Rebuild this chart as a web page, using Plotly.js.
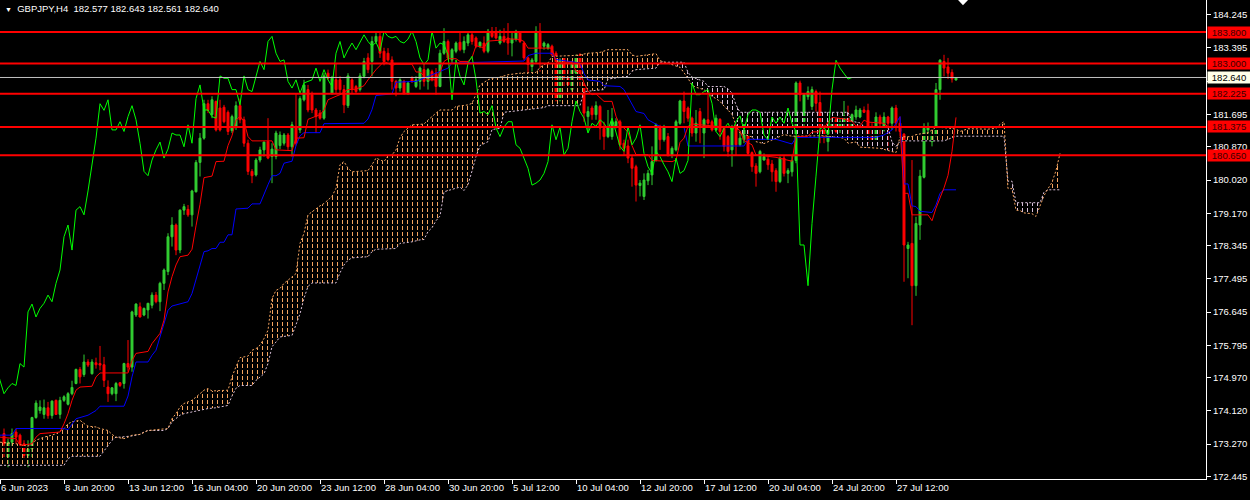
<!DOCTYPE html>
<html><head><meta charset="utf-8">
<script src="https://cdn.plot.ly/plotly-3.0.1.min.js"></script>
<style>html,body{margin:0;padding:0;background:#000;}#chart{width:1250px;height:500px;}</style>
</head><body><div id="chart"></div>
<script>
// ---- GBPJPY H4 candles (bar index 1..239) ----
const firstBar = 1;
const opens = [173.54,172.94,173.32,173.58,173.50,173.28,172.98,173.15,173.95,174.13,
174.03,174.20,174.00,174.39,174.03,174.39,174.29,174.56,174.82,175.18,
175.05,175.37,175.07,175.35,175.33,175.30,174.73,174.56,174.56,174.84,
174.82,175.33,175.24,176.57,176.78,176.57,176.70,176.82,177.08,176.91,
177.38,177.68,178.57,178.87,178.23,179.25,179.27,179.13,179.72,180.47,
181.09,181.97,181.69,182.03,181.86,181.88,181.75,181.28,181.39,181.92,
181.56,180.96,180.24,180.15,180.53,180.79,181.00,180.62,180.62,180.90,
180.96,181.17,180.87,181.39,181.30,182.07,182.33,182.20,181.81,181.73,
181.60,182.75,182.24,182.58,182.58,182.33,181.92,182.58,182.41,182.33,
182.67,183.14,183.05,183.56,183.69,183.31,183.26,183.09,182.54,182.37,
182.54,182.24,182.62,182.41,182.54,182.84,182.54,182.79,182.75,182.41,
183.26,183.56,183.09,183.31,183.54,183.35,183.52,183.73,183.65,183.44,
183.52,183.31,183.82,183.82,183.52,183.69,183.65,183.52,183.61,183.78,
183.52,183.14,182.92,183.05,183.82,183.44,183.39,183.44,183.26,182.07,
183.14,182.62,182.33,182.75,183.22,182.45,181.64,181.86,181.69,181.90,
181.34,181.13,181.13,181.37,181.51,180.96,180.89,180.58,180.36,179.88,
179.60,180.00,180.15,180.53,181.34,181.05,181.13,180.66,180.79,181.47,
182.04,181.86,181.60,181.22,181.77,181.22,181.56,181.51,181.30,181.57,
181.34,181.13,180.79,181.34,180.92,181.05,181.17,180.72,180.38,180.23,
180.53,180.55,180.43,180.26,179.98,180.58,180.19,180.23,180.52,182.50,
181.51,182.15,181.90,182.28,182.00,181.34,181.00,181.30,181.56,181.30,
181.47,181.64,181.30,181.63,181.63,181.81,181.80,181.17,181.05,181.63,
181.30,181.63,181.47,181.86,181.47,181.19,178.27,178.40,177.32,178.87,
180.09,181.30,181.00,181.17,182.33,183.05,182.91,182.77,182.577];
const highs = [173.67,173.41,173.67,173.67,173.54,173.37,173.37,173.97,174.39,174.39,
174.41,174.35,174.39,174.41,174.48,174.52,174.60,174.89,175.20,175.24,
175.56,175.44,175.44,175.48,175.78,175.50,174.90,174.73,174.86,174.86,
175.35,175.93,176.68,176.87,176.89,176.76,176.88,177.15,177.16,177.42,
177.76,178.66,179.07,178.91,179.27,179.41,179.38,179.77,180.53,181.22,
182.07,182.07,182.16,182.05,182.07,181.94,181.80,181.69,182.03,182.10,
181.64,181.05,180.30,180.58,180.87,181.00,181.60,180.96,181.28,181.26,
181.22,181.22,181.51,182.24,182.16,182.58,182.45,182.28,181.86,181.81,
182.75,182.84,182.68,183.01,182.67,182.45,182.75,182.62,182.45,182.75,
183.14,183.26,183.69,183.80,183.80,183.40,183.39,183.18,182.58,182.62,
182.58,182.54,182.67,182.67,182.92,182.97,182.88,182.84,182.88,183.35,
183.90,183.61,183.39,183.56,183.78,183.69,183.78,183.78,183.69,183.56,
183.69,183.88,183.93,183.93,183.86,183.90,184.03,183.78,183.86,183.82,
183.56,183.18,183.14,183.95,184.03,183.56,183.52,183.48,183.31,183.14,
183.18,182.84,183.05,183.22,183.26,182.50,181.90,181.92,182.03,181.94,
181.51,181.81,181.86,181.60,181.56,181.05,181.05,180.66,180.41,180.02,
180.19,180.28,180.88,181.47,181.43,181.43,181.22,180.88,181.56,182.07,
182.28,181.90,181.64,181.81,181.86,181.60,182.20,181.56,181.69,181.60,
181.39,181.17,181.43,181.43,181.26,181.47,181.47,180.75,180.45,180.79,
180.70,180.62,180.53,180.32,180.62,180.66,180.32,180.66,182.54,182.56,
182.24,182.41,182.41,182.33,182.28,181.43,181.39,181.60,181.64,181.64,
182.04,181.92,181.72,181.92,181.86,181.90,181.97,181.47,181.75,181.69,
181.75,181.66,181.90,181.94,181.64,181.22,178.44,180.53,179.08,180.28,
181.47,181.49,181.26,182.50,183.11,183.22,183.14,182.85,182.643];
const lows = [172.94,172.68,173.20,173.28,173.15,172.90,172.68,172.94,173.92,174.05,
173.92,173.92,173.92,174.02,173.92,174.35,174.26,174.52,174.80,174.82,
174.99,175.24,175.05,175.20,175.16,174.73,174.35,174.52,174.37,174.73,
174.69,175.12,175.12,176.52,176.51,176.54,176.48,176.74,176.87,176.67,
177.21,177.59,178.32,178.10,178.15,179.13,179.08,178.83,179.70,180.11,
181.05,181.73,181.60,181.26,181.26,181.47,181.17,181.22,181.30,181.47,
180.87,180.15,179.94,180.11,180.47,180.62,180.55,179.94,180.55,180.81,
180.90,180.79,180.62,180.90,181.22,182.03,181.75,181.73,181.22,181.56,
181.56,182.58,182.20,182.24,182.20,181.73,181.86,182.24,182.24,182.28,
182.62,182.75,182.67,183.50,183.14,182.95,183.05,182.33,182.16,182.28,
182.20,182.20,182.50,182.37,182.33,182.41,182.33,182.54,182.20,182.39,
183.22,183.09,183.01,183.26,183.31,183.26,183.44,183.48,183.39,183.39,
183.26,183.26,183.65,183.61,183.48,183.52,183.22,183.18,183.56,183.52,
183.09,182.75,182.79,183.01,182.79,183.35,183.35,183.18,182.03,182.03,
182.41,182.37,182.28,182.71,182.37,181.51,181.26,181.56,181.56,181.05,
180.79,181.09,181.05,181.34,180.79,180.66,180.45,179.85,179.47,179.60,
179.51,179.89,179.89,180.49,180.79,181.00,180.62,180.58,180.75,181.43,
181.47,181.51,181.13,181.00,180.96,180.58,181.43,181.26,181.26,181.05,
180.75,180.62,180.36,180.66,180.88,180.96,180.66,180.23,179.85,180.19,
180.52,180.28,179.98,179.72,179.94,180.11,179.94,180.11,180.45,182.03,
181.39,182.07,181.81,181.77,180.96,180.96,180.75,181.26,181.22,181.22,
181.39,181.13,181.26,181.56,181.60,181.73,180.96,181.00,181.00,181.17,
181.26,180.79,181.30,181.26,181.13,177.42,177.51,176.31,177.06,178.49,
180.06,181.05,180.88,181.13,182.07,182.67,182.60,182.51,182.561];
const closes = [173.28,173.32,173.54,173.45,173.28,172.98,173.15,173.95,174.32,174.22,
174.20,174.00,174.37,174.03,174.39,174.48,174.56,174.72,175.18,174.99,
175.37,175.29,175.37,175.30,175.29,174.90,174.56,174.71,174.82,174.77,
175.33,175.24,176.65,176.85,176.52,176.74,176.87,177.08,176.91,177.38,
177.72,178.57,178.87,178.23,179.25,179.34,179.13,179.74,180.47,181.09,
181.97,181.80,182.07,181.30,181.30,181.51,181.26,181.64,181.92,181.56,
180.96,180.24,180.13,180.53,180.79,180.99,180.58,180.81,181.22,181.17,
181.17,180.87,181.43,180.96,182.10,182.45,181.81,181.81,181.64,181.60,
182.68,182.62,182.62,182.33,182.33,181.94,182.68,182.33,182.28,182.68,
183.05,182.84,183.56,183.69,183.26,183.05,183.09,182.54,182.37,182.58,
182.24,182.50,182.54,182.58,182.88,182.54,182.84,182.58,182.41,183.26,
183.56,183.14,183.35,183.52,183.35,183.56,183.73,183.56,183.44,183.54,
183.31,183.82,183.69,183.65,183.69,183.56,183.52,183.62,183.82,183.56,
183.14,182.97,183.09,183.82,183.39,183.52,183.48,183.22,182.07,183.09,
182.67,182.45,183.01,183.18,182.58,181.73,181.77,181.69,181.92,181.35,
181.13,181.37,181.51,181.51,180.92,180.83,180.58,180.32,179.89,179.94,
180.02,180.19,180.49,181.43,181.05,181.37,180.66,180.83,181.51,182.04,
181.77,181.60,181.22,181.47,181.39,181.56,181.47,181.30,181.60,181.26,
180.88,180.75,181.39,180.92,181.09,181.43,180.70,180.36,180.19,180.75,
180.62,180.41,180.23,179.98,180.58,180.19,180.26,180.52,182.50,182.20,
182.20,182.28,182.33,181.98,181.26,181.13,181.34,181.47,181.26,181.51,
181.66,181.30,181.69,181.81,181.81,181.75,181.17,181.05,181.63,181.47,
181.63,181.47,181.86,181.47,181.26,178.36,178.36,177.32,178.91,180.12,
181.34,181.37,181.17,182.33,183.08,182.88,182.75,182.60,182.640];

// ---- Ichimoku lines (bar index, price) ----
const tenkanX = [0,4,5,8,9,10,15,16,17,18,19,20,23,24,25,32,33,34,37,38,40,41,42,43,44,45,47,48,49,50,51,53,54,56,57,58,59,60,61,62,63,68,69,73,74,76,77,80,81,82,84,85,87,89,91,92,94,96,98,99,103,104,105,106,107,109,110,111,112,114,115,117,118,119,121,122,126,127,130,131,132,138,139,143,144,145,146,147,148,149,150,151,153,154,155,156,157,158,159,162,163,168,169,170,171,172,173,180,184,185,186,188,189,194,196,198,199,202,203,205,206,207,208,211,212,213,214,215,216,217,221,222,225,226,227,228,232,233,234,235,236,237,238,239];
const tenkanY = [173.45,173.41,173.24,173.28,173.45,173.54,173.58,173.79,174.05,174.39,174.65,174.73,174.75,174.99,175.09,175.09,175.40,175.59,175.64,175.84,176.10,176.44,177.16,177.55,177.85,178.06,178.10,178.25,178.85,179.40,180.08,180.12,180.49,180.50,180.90,181.15,181.55,181.65,181.52,181.13,181.02,181.02,180.79,180.77,181.09,181.10,181.57,181.69,181.81,182.07,182.16,182.20,182.33,182.34,182.43,182.58,182.84,183.05,182.95,182.98,182.98,182.78,182.78,182.67,182.58,182.58,182.78,183.05,183.12,183.12,183.05,183.05,183.15,183.45,183.40,183.57,183.60,183.63,183.61,183.56,183.39,183.39,183.03,183.03,182.80,182.78,182.50,182.29,182.20,182.22,182.12,182.03,182.03,181.65,181.41,181.35,181.24,180.90,180.67,180.67,180.52,180.49,180.53,180.98,181.09,181.39,181.45,181.39,181.35,181.28,181.03,180.92,180.66,180.60,180.55,180.50,181.13,181.14,181.25,181.25,181.34,181.50,181.62,181.58,181.54,181.52,181.40,181.40,181.55,181.50,181.47,181.38,181.38,179.68,179.68,179.13,179.13,178.98,179.30,179.55,179.82,180.14,180.75,181.62];
const kijunX = [0,3,4,16,17,19,20,22,24,25,31,32,33,34,37,38,39,40,41,42,43,45,47,48,49,50,51,52,53,54,55,56,57,58,59,62,63,65,66,67,68,69,70,71,73,74,75,76,80,81,91,92,93,94,98,99,104,107,110,112,113,131,132,134,138,139,145,146,147,150,151,155,156,157,158,159,161,162,165,171,172,186,187,194,196,198,199,219,221,223,225,226,227,228,229,230,233,234,235,236,239];
const kijunY = [173.50,173.50,173.67,173.67,173.64,173.92,173.95,174.01,174.13,174.24,174.24,174.50,174.99,175.37,175.37,175.54,175.67,176.01,176.35,176.69,176.80,176.86,176.91,177.12,177.50,177.85,178.19,178.21,178.27,178.27,178.43,178.43,178.62,178.62,179.28,179.30,179.41,179.41,179.68,179.90,180.13,180.13,180.19,180.45,180.50,180.90,181.15,181.23,181.23,181.46,181.47,181.58,181.82,182.18,182.22,182.52,182.54,182.67,182.79,182.88,183.01,183.06,183.20,183.26,183.26,183.10,183.01,182.74,182.58,182.54,182.43,182.41,182.33,182.15,181.94,181.77,181.72,181.56,181.39,181.37,180.89,180.89,181.06,181.06,181.00,180.94,181.11,181.11,181.17,181.30,181.64,179.92,179.92,179.36,179.34,179.22,179.19,179.38,179.68,179.77,179.77];
const spanAX = [0,4,7,8,9,11,13,14,16,17,18,20,21,22,24,25,27,28,29,31,32,33,35,36,37,42,43,44,45,46,48,50,51,52,53,57,58,59,60,62,63,64,65,66,67,68,69,70,71,72,73,74,75,76,77,78,80,81,82,83,84,85,86,87,88,92,93,94,96,97,98,99,100,101,103,106,107,108,109,110,113,114,117,118,119,120,122,123,125,127,130,134,135,136,137,138,143,145,147,150,152,157,158,159,162,164,165,170,172,173,174,176,177,180,181,183,184,185,188,189,191,196,198,206,211,212,214,215,220,222,224,225,228,229,232,233,234,237,239,240,242,247,249,250,251,252,253,254,255,256,258,259,260,261,262,263,264,265];
const spanAY = [173.32,173.28,173.22,173.28,173.37,173.45,173.50,173.54,173.67,173.79,173.84,173.88,173.80,173.73,173.71,173.67,173.62,173.52,173.45,173.41,173.45,173.50,173.52,173.58,173.62,173.67,173.92,174.05,174.22,174.31,174.39,174.56,174.65,174.69,174.63,174.65,174.99,175.25,175.48,175.52,175.67,175.71,175.80,175.97,176.18,176.99,177.20,177.25,177.38,177.46,177.55,177.63,178.40,178.66,179.13,179.21,179.36,179.42,179.50,179.60,179.81,180.41,180.49,180.32,180.23,180.26,180.41,180.58,180.49,180.64,180.66,180.79,181.10,181.26,181.43,181.45,181.55,181.65,181.73,181.81,181.81,181.90,181.94,181.98,182.20,182.45,182.58,182.62,182.65,182.71,182.75,182.77,182.90,182.97,183.01,183.18,183.20,183.22,183.26,183.28,183.35,183.35,183.22,183.18,183.22,183.25,183.07,182.90,182.62,182.44,182.39,182.33,182.23,182.03,181.91,181.70,181.42,181.22,181.12,181.00,180.95,181.18,181.14,181.15,181.09,180.96,180.99,180.86,180.83,180.78,180.72,181.12,181.13,181.18,181.23,181.30,181.37,181.35,181.32,181.26,181.33,181.32,181.34,181.44,181.51,179.80,179.80,179.25,179.24,179.18,179.16,179.09,179.34,179.62,179.80,179.96,180.26,180.70];
const spanBX = [0,16,17,18,25,26,27,28,29,30,33,35,36,37,41,42,43,45,46,48,50,52,54,57,58,59,60,63,64,66,67,68,69,70,73,74,75,76,77,78,84,85,86,87,88,92,93,94,99,100,103,105,106,107,108,109,110,111,114,115,116,117,118,119,120,122,123,125,126,130,136,137,145,146,151,152,157,158,159,164,165,171,172,173,176,177,181,182,183,184,185,212,213,214,215,216,217,222,223,224,225,226,236,239,251,252,253,254,260,261,262,265];
const spanBY = [172.73,172.73,172.90,172.96,172.96,173.10,173.25,173.37,173.45,173.45,173.48,173.52,173.58,173.62,173.62,173.67,173.84,174.01,174.05,174.09,174.13,174.18,174.20,174.26,174.50,174.70,174.77,174.77,174.90,175.07,175.33,175.76,175.88,176.01,176.05,176.30,176.60,177.00,177.30,177.39,177.39,177.65,177.85,177.97,178.03,178.06,178.19,178.25,178.27,178.40,178.44,178.49,178.50,178.70,178.80,178.98,179.10,179.72,179.80,179.84,179.75,179.90,180.25,180.62,180.90,181.00,181.31,181.34,181.75,181.80,181.87,181.92,181.92,182.28,182.33,182.60,182.67,182.80,182.84,182.88,183.03,183.03,182.77,182.65,182.54,182.41,182.41,182.35,182.24,181.94,181.75,181.75,181.52,181.50,181.48,181.39,181.37,181.37,180.99,180.88,181.01,181.02,181.02,181.14,181.14,179.99,179.99,179.44,179.44,179.71,179.77,179.77];
const chikouShift = 26;

// ---- axes / levels ----
const xTickBars = [0,16,32,48,64,80,96,112,128,144,160,176,192,208,224];
const xTickText = ['6 Jun 2023','8 Jun 20:00','13 Jun 12:00','16 Jun 04:00','20 Jun 20:00','23 Jun 12:00','28 Jun 04:00','30 Jun 20:00','5 Jul 12:00','10 Jul 04:00','12 Jul 20:00','17 Jul 12:00','20 Jul 04:00','24 Jul 20:00','27 Jul 12:00'];
const yTickVals = [184.245,183.395,182.545,181.695,180.870,180.020,179.170,178.345,177.495,176.645,175.795,174.970,174.120,173.270,172.445];
const levelPrices = [183.800,183.000,182.225,181.375,180.650];
const bidPrice = 182.640;
const titleText = 'GBPJPY,H4\u00a0\u00a0182.577 182.643 182.561 182.640';

// ---- build ----
const FONT = 'Liberation Sans, Arial, sans-serif';
const barX = opens.map((_, i) => i + firstBar);
const chikouX = barX.map(k => k - chikouShift);
// tick label hidden behind the bid-price box is left blank (it is covered in the original)
const yTickText = yTickVals.map(v => Math.abs(v - bidPrice) < 0.2 ? '' : v.toFixed(3));

function seg(xs, ys, a, b) {
  const X = [], Y = [];
  xs.forEach((x, i) => { if (x >= a && x <= b) { X.push(x); Y.push(ys[i]); } });
  return {X, Y};
}
const SANDY = '#F4A460', THISTLE = '#D8BFD8';
const cloudSegs = [[0,165,SANDY],[165,225,THISTLE],[225,252,SANDY],[252,262,THISTLE],[262,265,SANDY]];
const traces = [];
function cloudPair(sb, sa, pattern) {
  traces.push({type:'scatter', mode:'lines', x: sb.X, y: sb.Y, line:{width:0}, hoverinfo:'skip'});
  traces.push({type:'scatter', mode:'lines', x: sa.X, y: sa.Y, line:{width:0}, fill:'tonexty',
    fillcolor:'rgba(0,0,0,0)', fillpattern: pattern, hoverinfo:'skip'});
}
cloudSegs.forEach(([a, b, col]) => {
  const sb = seg(spanBX, spanBY, a, b), sa = seg(spanAX, spanAY, a, b);
  // vertical hatch lines
  cloudPair(sb, sa, {shape:'|', size:5, solidity:0.2, fgcolor:col, fgopacity:1});
  // black horizontal gaps turn the hatch into dotted vertical lines
  cloudPair(sb, sa, {shape:'-', size:6, solidity:0.3334, fgcolor:'#000000', fgopacity:1});
});
traces.push({type:'scatter', mode:'lines', x: spanBX, y: spanBY, line:{width:1, color:THISTLE, dash:'2px,2px'}, hoverinfo:'skip'});
traces.push({type:'scatter', mode:'lines', x: spanAX, y: spanAY, line:{width:1, color:SANDY, dash:'2px,2px'}, hoverinfo:'skip'});
traces.push({type:'candlestick', x: barX, open: opens, high: highs, low: lows, close: closes,
  increasing:{line:{color:'#32CD32', width:1}, fillcolor:'#32CD32'},
  decreasing:{line:{color:'#FF0000', width:1}, fillcolor:'#FF0000'},
  whiskerwidth:0, hoverinfo:'skip'});
traces.push({type:'scatter', mode:'lines', x: kijunX, y: kijunY, line:{width:1, color:'#0000FF'}, hoverinfo:'skip'});
traces.push({type:'scatter', mode:'lines', x: tenkanX, y: tenkanY, line:{width:1, color:'#FF0000'}, hoverinfo:'skip'});
traces.push({type:'scatter', mode:'lines', x: chikouX, y: closes, line:{width:1, color:'#00FF00'}, hoverinfo:'skip'});

const shapes = levelPrices.map(p => ({type:'line', xref:'paper', x0:0, x1:1, yref:'y', y0:p, y1:p, line:{color:'#FF0000', width:2}}));
shapes.push({type:'line', xref:'paper', x0:0, x1:1, yref:'y', y0:bidPrice, y1:bidPrice, line:{color:'#C0C0C0', width:1}});
shapes.push({type:'path', xref:'paper', yref:'paper', path:'M 0.7944 1 L 0.8027 1 L 0.7985 0.989 Z', fillcolor:'#FFFFFF', line:{width:0}});

const annotations = levelPrices.map(p => ({xref:'paper', x:1, xanchor:'left', xshift:1, yref:'y', y:p, yanchor:'middle',
  text:p.toFixed(3), showarrow:false, bgcolor:'#FF0000', width:42, height:11, borderpad:0, align:'center',
  font:{family:FONT, size:9.5, color:'#3a0000'}}));
annotations.push({xref:'paper', x:1, xanchor:'left', xshift:1, yref:'y', y:bidPrice, yanchor:'middle',
  text:bidPrice.toFixed(3), showarrow:false, bgcolor:'#FFFFE8', width:42, height:11, borderpad:0, align:'center',
  font:{family:FONT, size:9.5, color:'#000000'}});
annotations.push({xref:'paper', yref:'paper', x:0, y:1, xanchor:'left', yanchor:'top', xshift:3, yshift:-1, showarrow:false,
  text:'<span style="font-size:7px">▼</span>\u00a0 ' + titleText, font:{family:FONT, size:9.5, color:'#FFFFFF'}});

const layout = {
  width:1250, height:500, margin:{l:0, r:44, t:0, b:21, pad:0},
  paper_bgcolor:'#000000', plot_bgcolor:'#000000', showlegend:false, hovermode:false, dragmode:false,
  boxgap:0.3,
  xaxis:{range:[0,301.5], tickvals:xTickBars, ticktext:xTickText, ticks:'outside', ticklen:4, tickcolor:'#FFFFFF',
    showline:true, linecolor:'#FFFFFF', linewidth:1, showgrid:false, zeroline:false, fixedrange:true,
    ticklabelposition:'outside right', tickfont:{family:FONT, size:9.5, color:'#FFFFFF'}, rangeslider:{visible:false}},
  yaxis:{side:'right', range:[172.38,184.62], tickvals:yTickVals, ticktext:yTickText, ticks:'outside', ticklen:4,
    tickcolor:'#FFFFFF', showline:true, linecolor:'#FFFFFF', linewidth:1, showgrid:false, zeroline:false, fixedrange:true,
    tickfont:{family:FONT, size:9.5, color:'#FFFFFF'}},
  shapes, annotations
};
Plotly.newPlot('chart', traces, layout, {staticPlot:true, displayModeBar:false});
</script></body></html>
